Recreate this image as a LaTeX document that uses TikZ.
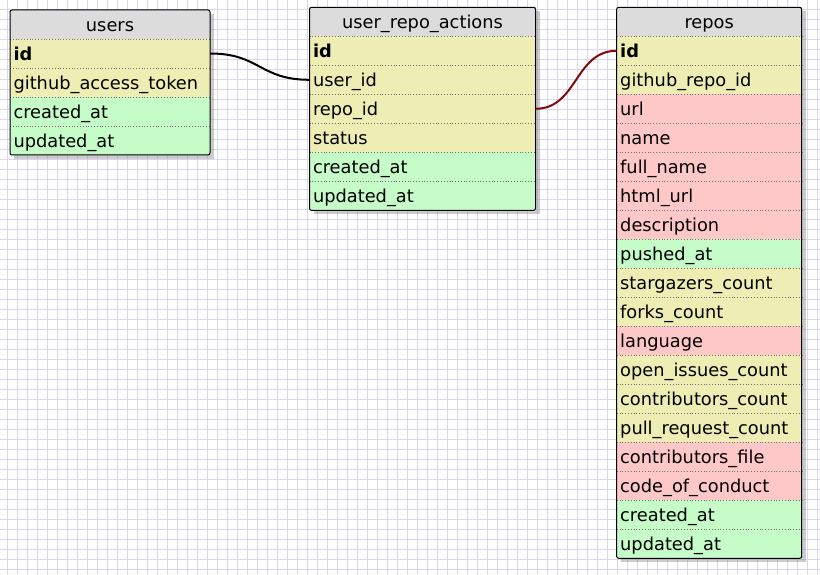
\documentclass[tikz,border=0pt]{standalone}
\usepackage{fontspec}
\setmainfont{DejaVu Sans}
\usetikzlibrary{positioning}
\usetikzlibrary{shadows}
\definecolor{headgray}{RGB}{220,220,220}
\definecolor{keyyellow}{RGB}{238,237,180}
\definecolor{timegreen}{RGB}{197,252,200}
\definecolor{textpink}{RGB}{255,200,200}
\definecolor{gridlav}{RGB}{218,215,236}
\definecolor{linkred}{RGB}{130,10,10}
\pgfdeclarelayer{background}
\pgfsetlayers{background,main}
\tikzset{x=1pt, y=-1pt, % one unit is one pixel of the schema, y going down
field/.style={ % Sets the properties for each column row
rectangle,
inner sep=0pt, inner xsep=3.5pt, outer sep=0pt,
minimum height=29pt,
align=left,
text height=16pt, text depth=2pt,
font=\fontsize{17.8}{20}\selectfont},
head/.style={field, fill=headgray, align=center}, % table name
yfield/.style={field, fill=keyyellow}, % keys and counts
gfield/.style={field, fill=timegreen}, % timestamps
pfield/.style={field, fill=textpink}, % strings
usertab/.style={text width=193pt},
acttab/.style={text width=219pt},
repotab/.style={text width=178pt},
rowline/.style={draw=black!55, dotted, line width=0.8pt},
tableframe/.style={draw=black, line width=1pt, rounded corners=2pt},
tableshadow/.style={fill=white, drop shadow={opacity=0.4, shadow xshift=4pt, shadow yshift=-4pt}},
link/.style={line width=2pt},
gridline/.style={draw=gridlav, line width=1pt}}

\begin{document}
\begin{tikzpicture}
    \useasboundingbox (0,0) rectangle (820,575);
    % users
    \node[head, usertab, anchor=north west] (u0) at (10,10) {users};
    \node[yfield, usertab, below=0pt of u0] (u1) {\textbf{id}};
    \node[yfield, usertab, below=0pt of u1] (u2) {github\_access\_token};
    \node[gfield, usertab, below=0pt of u2] (u3) {created\_at};
    \node[gfield, usertab, below=0pt of u3] (u4) {updated\_at};
    % user_repo_actions
    \node[head, acttab, anchor=north west] (a0) at (309.5,7.3) {user\_repo\_actions};
    \node[yfield, acttab, below=0pt of a0] (a1) {\textbf{id}};
    \node[yfield, acttab, below=0pt of a1] (a2) {user\_id};
    \node[yfield, acttab, below=0pt of a2] (a3) {repo\_id};
    \node[yfield, acttab, below=0pt of a3] (a4) {status};
    \node[gfield, acttab, below=0pt of a4] (a5) {created\_at};
    \node[gfield, acttab, below=0pt of a5] (a6) {updated\_at};
    % repos
    \node[head, repotab, anchor=north west] (r0) at (616.7,7.3) {repos};
    \node[yfield, repotab, below=0pt of r0] (r1) {\textbf{id}};
    \node[yfield, repotab, below=0pt of r1] (r2) {github\_repo\_id};
    \node[pfield, repotab, below=0pt of r2] (r3) {url};
    \node[pfield, repotab, below=0pt of r3] (r4) {name};
    \node[pfield, repotab, below=0pt of r4] (r5) {full\_name};
    \node[pfield, repotab, below=0pt of r5] (r6) {html\_url};
    \node[pfield, repotab, below=0pt of r6] (r7) {description};
    \node[gfield, repotab, below=0pt of r7] (r8) {pushed\_at};
    \node[yfield, repotab, below=0pt of r8] (r9) {stargazers\_count};
    \node[yfield, repotab, below=0pt of r9] (r10) {forks\_count};
    \node[pfield, repotab, below=0pt of r10] (r11) {language};
    \node[yfield, repotab, below=0pt of r11] (r12) {open\_issues\_count};
    \node[yfield, repotab, below=0pt of r12] (r13) {contributors\_count};
    \node[yfield, repotab, below=0pt of r13] (r14) {pull\_request\_count};
    \node[pfield, repotab, below=0pt of r14] (r15) {contributors\_file};
    \node[pfield, repotab, below=0pt of r15] (r16) {code\_of\_conduct};
    \node[gfield, repotab, below=0pt of r16] (r17) {created\_at};
    \node[gfield, repotab, below=0pt of r17] (r18) {updated\_at};
    % row separators and frames
    \foreach \i in {0,...,3} \draw[rowline] (u\i.south west) -- (u\i.south east);
    \foreach \i in {0,...,5} \draw[rowline] (a\i.south west) -- (a\i.south east);
    \foreach \i in {0,...,17} \draw[rowline] (r\i.south west) -- (r\i.south east);
    \draw[tableframe] (u0.north west) rectangle (u4.south east);
    \draw[tableframe] (a0.north west) rectangle (a6.south east);
    \draw[tableframe] (r0.north west) rectangle (r18.south east);
    % references
    \draw[link, black] (u1.east) .. controls +(50,0) and +(-50,0) .. (a2.west);
    \draw[link, linkred] (a3.east) .. controls +(42,0) and +(-42,0) .. (r1.west);
    \begin{pgfonlayer}{background}
      \fill[white] (0,0) rectangle (820,575);
      \foreach \gx in {7.3,17.3,...,817.3} \draw[gridline] (\gx,0) -- (\gx,575);
      \foreach \gy in {9.5,19.5,...,569.5} \draw[gridline] (0,\gy) -- (820,\gy);
      \path[tableshadow] (u0.north west) rectangle (u4.south east);
      \path[tableshadow] (a0.north west) rectangle (a6.south east);
      \path[tableshadow] (r0.north west) rectangle (r18.south east);
    \end{pgfonlayer}
  \end{tikzpicture}
\end{document}
